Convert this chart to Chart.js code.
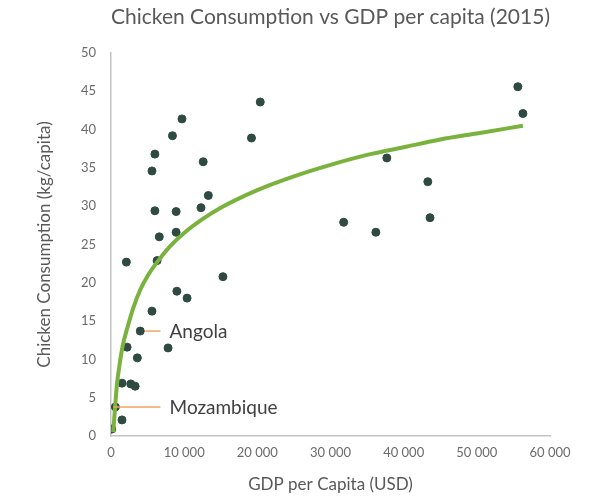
<!DOCTYPE html>
<html>
<head>
<meta charset="utf-8">
<script src="https://cdn.jsdelivr.net/npm/chart.js@4/dist/chart.umd.min.js"></script>
<style>
  html, body { margin: 0; padding: 0; background: #ffffff; }
  #wrap { width: 590px; height: 497px; position: relative; }
</style>
</head>
<body>
<div id="wrap"><canvas id="c" width="590" height="497"></canvas></div>
<script>
// ---- Data ----
const chartTitle = 'Chicken Consumption vs GDP per capita (2015)';
const xAxisTitle = 'GDP per Capita (USD)';
const yAxisTitle = 'Chicken Consumption (kg/capita)';

// Country points: GDP per capita (USD) and chicken consumption (kg/capita)
const gdp = [55600, 56300, 37700, 43300, 43600, 31800, 36200, 20400, 19200, 9700,
             8400, 6000, 5600, 12600, 13300, 12300, 6000, 8900, 6600, 8900,
             2100, 6300, 15300, 9000, 10400, 5600, 4000, 2200, 7800, 3600,
             1500, 2700, 3300, 600, 1500, 100];
const consumption = [45.6, 42.1, 36.3, 33.2, 28.5, 27.9, 26.6, 43.6, 38.9, 41.4,
                     39.2, 36.8, 34.6, 35.8, 31.4, 29.8, 29.4, 29.3, 26.0, 26.6,
                     22.7, 22.9, 20.8, 18.9, 18.0, 16.3, 13.7, 11.6, 11.5, 10.2,
                     6.9, 6.8, 6.5, 3.8, 2.1, 0.9];

// Logarithmic trend line
const trendX = [300, 500, 800, 1200, 1600, 2200, 3000, 4000, 5000, 6300, 8000, 10000,
                12500, 15000, 20000, 25000, 30000, 35000, 40000, 45000, 50000, 56300];
const trendY = [0.5, 3.0, 6.6, 9.5, 11.8, 14.0, 16.6, 19.1, 20.9, 22.7, 24.7, 26.5,
                28.3, 29.8, 32.1, 33.9, 35.4, 36.7, 37.7, 38.7, 39.5, 40.5];

// Labelled countries (index into the point arrays)
const calloutNames = ['Angola', 'Mozambique'];
const calloutIndex = [26, 33];

// Tick labels
const xTickLabels = ['0', '10 000', '20 000', '30 000', '40 000', '50 000', '60 000'];
const yTickLabels = ['0', '5', '10', '15', '20', '25', '30', '35', '40', '45', '50'];

// ---- Chart ----
const FONT = 'Lato, "Open Sans", "DejaVu Sans", sans-serif';
const scatterData = gdp.map((g, i) => ({ x: g, y: consumption[i] }));
const trendData = trendX.map((g, i) => ({ x: g, y: trendY[i] }));

const calloutPlugin = {
  id: 'callouts',
  afterDatasetsDraw(chart) {
    const ctx = chart.ctx;
    const xs = chart.scales.x, ys = chart.scales.y;
    const labelX = xs.getPixelForValue(8000);
    ctx.save();
    calloutNames.forEach((name, k) => {
      const i = calloutIndex[k];
      const px = xs.getPixelForValue(gdp[i]);
      const py = ys.getPixelForValue(consumption[i]);
      ctx.strokeStyle = '#f0a55e';
      ctx.lineWidth = 1.5;
      ctx.beginPath();
      ctx.moveTo(px + (k === 0 ? 5 : -2), py);
      ctx.lineTo(labelX - 9, py);
      ctx.stroke();
      ctx.fillStyle = '#404040';
      ctx.font = '19px ' + FONT;
      ctx.textAlign = 'left';
      ctx.textBaseline = 'middle';
      ctx.fillText(name, labelX, py + 1);
    });
    ctx.restore();
  }
};

new Chart(document.getElementById('c'), {
  type: 'scatter',
  data: {
    datasets: [
      {
        type: 'line',
        label: 'Trend',
        data: trendData,
        borderColor: '#7ab23e',
        borderWidth: 4,
        pointRadius: 0,
        fill: false,
        cubicInterpolationMode: 'monotone',
        order: 0
      },
      {
        label: 'Countries',
        data: scatterData,
        backgroundColor: '#2e4a42',
        borderColor: '#2e4a42',
        pointRadius: 4,
        pointHoverRadius: 4,
        order: 1
      }
    ]
  },
  options: {
    responsive: false,
    animation: false,
    layout: { padding: { left: 0, right: 40, top: 0, bottom: 0 } },
    plugins: {
      legend: { display: false },
      tooltip: { enabled: false },
      title: {
        display: true,
        fullSize: false,
        text: chartTitle,
        color: '#595959',
        font: { family: FONT, size: 22, weight: 'normal' },
        padding: { top: 4, bottom: 22.6 }
      }
    },
    scales: {
      x: {
        type: 'linear',
        min: 0, max: 60000,
        grid: { display: false, drawTicks: false },
        border: { display: true, color: '#c4c4c4', width: 1.5 },
        ticks: {
          stepSize: 10000,
          maxRotation: 0,
          autoSkip: false,
          padding: 9,
          color: '#6b6b6b',
          font: { family: FONT, size: 13 },
          callback: (v) => xTickLabels[Math.round(v / 10000)]
        },
        title: {
          display: true,
          text: xAxisTitle,
          color: '#595959',
          font: { family: FONT, size: 17 },
          padding: { top: 0, bottom: 2 }
        },
        afterFit: (s) => { s.height = 61; }
      },
      y: {
        type: 'linear',
        min: 0, max: 50,
        grid: { display: false, drawTicks: false },
        border: { display: true, color: '#c4c4c4', width: 1.5 },
        ticks: {
          stepSize: 5,
          padding: 15,
          color: '#6b6b6b',
          font: { family: FONT, size: 13 },
          callback: (v) => yTickLabels[Math.round(v / 5)]
        },
        title: {
          display: true,
          text: yAxisTitle,
          color: '#595959',
          font: { family: FONT, size: 17 },
          padding: { top: 34, bottom: 0 }
        },
        afterFit: (s) => { s.width = 111; }
      }
    }
  },
  plugins: [calloutPlugin]
});
</script>
</body>
</html>
